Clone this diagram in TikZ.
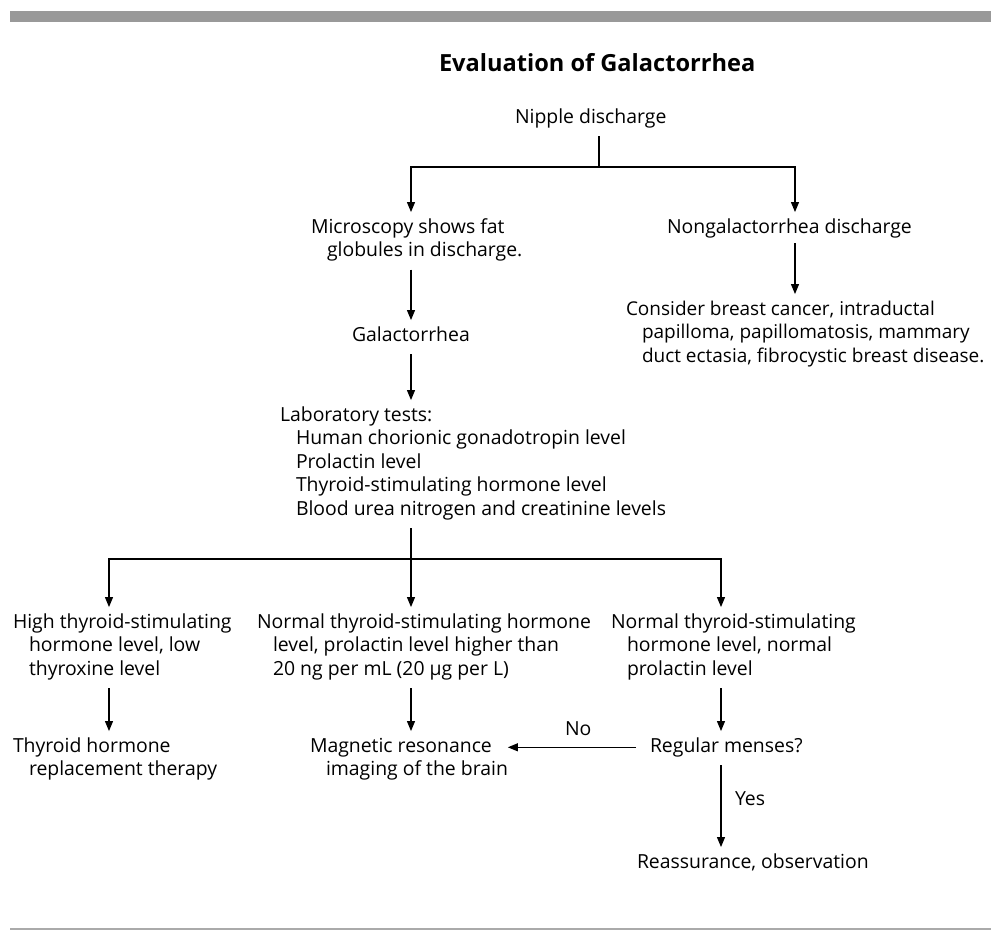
\documentclass[tikz,border=0pt]{standalone}
\usepackage{fontspec}
\setmainfont{Open Sans}
\usetikzlibrary{arrows.meta}
\definecolor{bargray}{HTML}{999999}
\definecolor{linegray}{HTML}{AAAAAA}
\newcommand{\blk}[1]{\begin{tabular}[t]{@{}l@{}}#1\end{tabular}}
\newcommand{\ind}{\hspace*{16pt}}
\tikzset{
  txt/.style={inner sep=0pt, outer sep=0pt, anchor=base west, font=\fontsize{19.4}{23.5}\selectfont},
  txtsmall/.style={txt, font=\fontsize{19}{23.5}\selectfont},
  conn/.style={line width=1.1pt, draw=black},
  arr/.style={conn, -{Triangle[length=10pt,width=8pt]}, shorten <=6pt, shorten >=4.5pt},
  seg/.style={conn, shorten <=6pt}
}
\begin{document}
\begin{tikzpicture}[x=1pt,y=-1pt]
\useasboundingbox (0,0) rectangle (991,930);
\fill[bargray] (10,11) rectangle (991,22);
\fill[linegray] (10,927.6) rectangle (991,929.6);

\node[txt, font=\fontsize{23.6}{28}\selectfont\bfseries] (title) at (439,71) {Evaluation of Galactorrhea};

\node[txt] (nipple) at (515,123) {\blk{Nipple discharge}};
\node[txt] (micro) at (311,233) {\blk{Microscopy shows fat\\ \ind globules in discharge.}};
\node[txt] (nongal) at (667,233) {\blk{Nongalactorrhea discharge}};
\node[txtsmall] (consider) at (626,315) {\blk{Consider breast cancer, intraductal\\ \ind papilloma, papillomatosis, mammary\\ \ind duct ectasia, fibrocystic breast disease.}};
\node[txt] (galac) at (352,341) {\blk{Galactorrhea}};
\node[txt] (lab) at (280,421) {\blk{Laboratory tests:\\ \ind Human chorionic gonadotropin level\\ \ind Prolactin level\\ \ind Thyroid-stimulating hormone level\\ \ind Blood urea nitrogen and creatinine levels}};
\node[txt] (high) at (13,628) {\blk{High thyroid-stimulating\\ \ind hormone level, low\\ \ind thyroxine level}};
\node[txt] (normhigh) at (257,628) {\blk{Normal thyroid-stimulating hormone\\ \ind level, prolactin level higher than\\ \ind 20 ng per mL (20 µg per L)}};
\node[txt] (normnorm) at (611,628) {\blk{Normal thyroid-stimulating\\ \ind hormone level, normal\\ \ind prolactin level}};
\node[txt] (thyroid) at (13,752) {\blk{Thyroid hormone\\ \ind replacement therapy}};
\node[txt] (mri) at (310,752) {\blk{Magnetic resonance\\ \ind imaging of the brain}};
\node[txt] (regular) at (650,752) {\blk{Regular menses?}};
\node[txt] (reassure) at (637,868) {\blk{Reassurance, observation}};
\node[txt] (no) at (565,735) {No};
\node[txt] (yes) at (735,805) {Yes};

\coordinate (j1) at (599,167);
\coordinate (cA) at (411,0);
\coordinate (cB) at (795,0);
\coordinate (j2) at (411,559);
\coordinate (c1) at (109,0);
\coordinate (c3) at (721,0);

\draw[seg] (nipple.south -| j1) -- (j1);
\draw[arr, shorten <=0pt] (j1) -| (micro.north -| cA);
\draw[arr, shorten <=0pt] (j1) -| (nongal.north -| cB);
\draw[arr] (micro.south -| cA) -- (galac.north -| cA);
\draw[arr] (galac.south -| cA) -- (lab.north -| cA);
\draw[arr, shorten <=3pt] (nongal.south -| cB) -- (consider.north -| cB);
\draw[seg] (lab.south -| j2) -- (j2);
\draw[arr, shorten <=0pt] (j2) -| (high.north -| c1);
\draw[arr, shorten <=0pt] (j2) -- (normhigh.north -| j2);
\draw[arr, shorten <=0pt] (j2) -| (normnorm.north -| c3);
\draw[arr] (high.south -| c1) -- (thyroid.north -| c1);
\draw[arr] (normhigh.south -| cA) -- (mri.north -| cA);
\draw[arr] (normnorm.south -| c3) -- (regular.north -| c3);
\draw[arr, shorten <=14pt, shorten >=0pt] (regular.west) -- (regular.west -| mri.east);
\draw[arr] (regular.south -| c3) -- (reassure.north -| c3);
\end{tikzpicture}
\end{document}
